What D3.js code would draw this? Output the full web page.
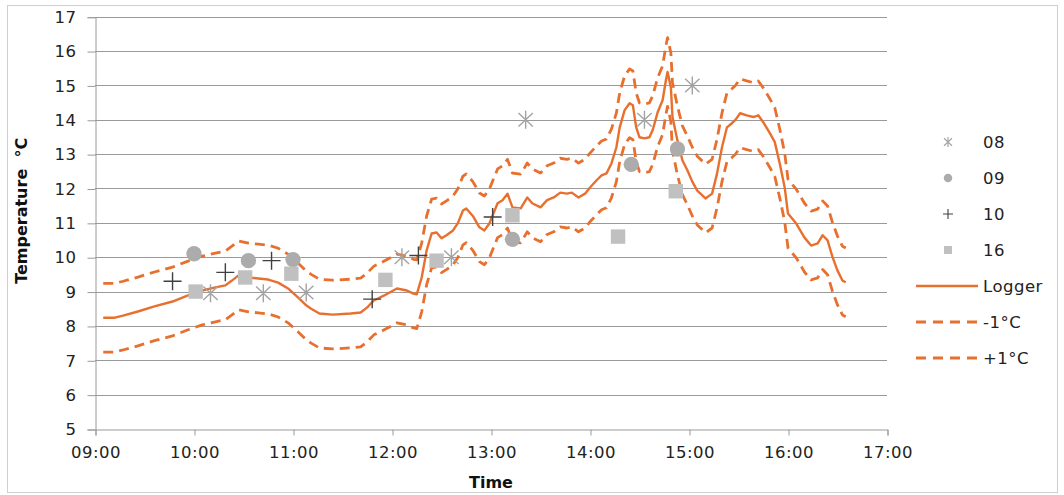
<!DOCTYPE html>
<html>
<head>
<meta charset="utf-8">
<script src="https://cdn.jsdelivr.net/npm/d3@7/dist/d3.min.js"></script>
<style>
  html, body { margin: 0; padding: 0; background: #ffffff; }
  svg { display: block; font-family: "DejaVu Sans", Verdana, sans-serif; }
</style>
</head>
<body>
<svg id="chart" width="1064" height="495"></svg>
<script>
// ---- data ----
const xTickLabels = ["09:00", "10:00", "11:00", "12:00", "13:00", "14:00", "15:00", "16:00", "17:00"];
const yTickValues = [5, 6, 7, 8, 9, 10, 11, 12, 13, 14, 15, 16, 17];

// Logger record
const loggerTimes = [
  "09:05","09:12","09:17","09:26","09:36","09:47","09:56","10:05","10:13","10:19",
  "10:23","10:27","10:33","10:39","10:45","10:51","10:57","11:03","11:08","11:11",
  "11:16","11:24","11:35","11:41","11:45","11:49","11:55","12:03","12:09","12:13",
  "12:15","12:18","12:21","12:24","12:27","12:30","12:33","12:37","12:40","12:43",
  "12:45","12:49","12:53","12:56","12:59","13:04","13:07","13:10","13:13","13:18",
  "13:22","13:25","13:30","13:34","13:38","13:42","13:46","13:49","13:53","13:57",
  "14:00","14:04","14:07","14:10","14:13","14:16","14:18","14:21","14:24","14:26",
  "14:28","14:30","14:33","14:36","14:38","14:41","14:44","14:46","14:47","14:49",
  "14:50","14:53","14:56","14:59","15:02","15:05","15:10","15:14","15:17","15:20",
  "15:23","15:26","15:28","15:31","15:35","15:39","15:42","15:45","15:49","15:52",
  "15:55","15:58","16:00","16:05","16:10","16:14","16:18","16:21","16:24","16:27",
  "16:30","16:33","16:35"
];
const loggerTemps = [
  8.24, 8.24, 8.30, 8.42, 8.57, 8.71, 8.88, 9.03, 9.12, 9.18,
  9.32, 9.47, 9.41, 9.38, 9.35, 9.26, 9.09, 8.83, 8.60, 8.50,
  8.36, 8.33, 8.36, 8.39, 8.54, 8.74, 8.88, 9.09, 9.03, 8.94,
  8.92, 9.41, 10.20, 10.69, 10.72, 10.55, 10.64, 10.78, 11.00, 11.36,
  11.42, 11.20, 10.87, 10.78, 10.98, 11.57, 11.66, 11.85, 11.45, 11.42,
  11.74, 11.57, 11.45, 11.66, 11.74, 11.88, 11.85, 11.88, 11.74, 11.85,
  12.03, 12.24, 12.38, 12.44, 12.73, 13.20, 13.78, 14.28, 14.48, 14.42,
  13.78, 13.49, 13.46, 13.49, 13.70, 14.22, 14.57, 15.15, 15.39, 14.95,
  14.08, 13.40, 12.82, 12.53, 12.20, 11.94, 11.71, 11.85, 12.44, 13.20,
  13.78, 13.90, 13.99, 14.19, 14.13, 14.08, 14.13, 13.93, 13.61, 13.35,
  12.73, 12.03, 11.27, 10.98, 10.57, 10.34, 10.40, 10.64, 10.49, 10.00,
  9.61, 9.32, 9.27
];
// Lower band (-1 °C)
const minusOneTemps = [
  7.24, 7.24, 7.30, 7.42, 7.57, 7.71, 7.88, 8.03, 8.12, 8.18,
  8.32, 8.47, 8.41, 8.38, 8.35, 8.26, 8.09, 7.83, 7.60, 7.50,
  7.36, 7.33, 7.36, 7.39, 7.54, 7.74, 7.88, 8.09, 8.03, 7.94,
  7.92, 8.41, 9.20, 9.69, 9.72, 9.55, 9.64, 9.78, 10.00, 10.36,
  10.42, 10.20, 9.87, 9.78, 9.98, 10.57, 10.66, 10.85, 10.45, 10.42,
  10.74, 10.57, 10.45, 10.66, 10.74, 10.88, 10.85, 10.88, 10.74, 10.85,
  11.03, 11.24, 11.38, 11.44, 11.73, 12.20, 12.78, 13.28, 13.48, 13.42,
  12.78, 12.49, 12.46, 12.49, 12.70, 13.22, 13.57, 14.15, 14.39, 13.95,
  13.08, 12.40, 11.82, 11.53, 11.20, 10.94, 10.71, 10.85, 11.44, 12.20,
  12.78, 12.90, 12.99, 13.19, 13.13, 13.08, 13.13, 12.93, 12.61, 12.35,
  11.73, 11.03, 10.27, 9.98, 9.57, 9.34, 9.40, 9.64, 9.49, 9.00,
  8.61, 8.32, 8.27
];
// Upper band (+1 °C)
const plusOneTemps = [
  9.24, 9.24, 9.30, 9.42, 9.57, 9.71, 9.88, 10.03, 10.12, 10.18,
  10.32, 10.47, 10.41, 10.38, 10.35, 10.26, 10.09, 9.83, 9.60, 9.50,
  9.36, 9.33, 9.36, 9.39, 9.54, 9.74, 9.88, 10.09, 10.03, 9.94,
  9.92, 10.41, 11.20, 11.69, 11.72, 11.55, 11.64, 11.78, 12.00, 12.36,
  12.42, 12.20, 11.87, 11.78, 11.98, 12.57, 12.66, 12.85, 12.45, 12.42,
  12.74, 12.57, 12.45, 12.66, 12.74, 12.88, 12.85, 12.88, 12.74, 12.85,
  13.03, 13.24, 13.38, 13.44, 13.73, 14.20, 14.78, 15.28, 15.48, 15.42,
  14.78, 14.49, 14.46, 14.49, 14.70, 15.22, 15.57, 16.15, 16.39, 15.95,
  15.08, 14.40, 13.82, 13.53, 13.20, 12.94, 12.71, 12.85, 13.44, 14.20,
  14.78, 14.90, 14.99, 15.19, 15.13, 15.08, 15.13, 14.93, 14.61, 14.35,
  13.73, 13.03, 12.27, 11.98, 11.57, 11.34, 11.40, 11.64, 11.49, 11.00,
  10.61, 10.32, 10.27
];

// Spot readings
const s08Times = ["10:10", "10:42", "11:08", "12:06", "12:36", "13:21", "14:33", "15:02"];
const s08Temps = [8.95, 8.95, 8.97, 10.0, 10.0, 14.0, 14.0, 15.0];
const s09Times = ["10:00", "10:33", "11:00", "13:13", "14:25", "14:53"];
const s09Temps = [10.1, 9.9, 9.93, 10.52, 12.7, 13.15];
const s10Times = ["09:47", "10:19", "10:47", "11:48", "12:16", "13:01"];
const s10Temps = [9.3, 9.56, 9.9, 8.78, 10.05, 11.17];
const s16Times = ["10:01", "10:31", "10:59", "11:56", "12:27", "13:13", "14:17", "14:52"];
const s16Temps = [9.0, 9.41, 9.52, 9.34, 9.9, 11.22, 10.6, 11.92];

const legendLabels = ["08", "09", "10", "16", "Logger", "-1°C", "+1°C"];

// ---- helpers ----
const toMin = s => { const [h, m] = s.split(":").map(Number); return h * 60 + m; };
const pairs = (times, temps) => times.map((t, i) => ({ t: toMin(t), v: temps[i] }));

const svg = d3.select("#chart");
const plot = { left: 95, right: 887, top: 16.7, bottom: 429 };

const x = d3.scaleLinear().domain([9 * 60, 17 * 60]).range([plot.left, plot.right]);
const y = d3.scaleLinear().domain([5, 17]).range([plot.bottom, plot.top]);

const gridColor = "#9a9a9a";
const orange = "#E8702F";
const fontSize = 16.5;
const letterSp = "0.5px";

// outer frame
svg.append("rect")
  .attr("x", 7.5).attr("y", 5.5).attr("width", 1050).attr("height", 487)
  .attr("fill", "#fff").attr("stroke", "#cfcfcf").attr("stroke-width", 1);

// horizontal gridlines
svg.append("g")
  .selectAll("line").data(yTickValues.filter(v => v > 5)).join("line")
  .attr("x1", plot.left).attr("x2", plot.right)
  .attr("y1", d => Math.round(y(d)) + 0.5).attr("y2", d => Math.round(y(d)) + 0.5)
  .attr("stroke", gridColor).attr("stroke-width", 1);

// y axis
const yAxis = d3.axisLeft(y).tickValues(yTickValues).tickSize(8).tickPadding(11).tickFormat(d3.format("d"));
const gy = svg.append("g").attr("transform", `translate(${plot.left + 0.5},0.5)`).call(yAxis);
gy.select(".domain").attr("stroke", gridColor);
gy.selectAll(".tick line").attr("stroke", gridColor);
gy.selectAll(".tick text").attr("font-size", fontSize).attr("fill", "#222")
  .attr("letter-spacing", letterSp)
  .attr("font-family", "DejaVu Sans, Verdana, sans-serif");

// x axis
const xTickVals = xTickLabels.map(toMin);
const xAxis = d3.axisBottom(x).tickValues(xTickVals).tickSize(6).tickPadding(11)
  .tickFormat((d, i) => xTickLabels[i]);
const gx = svg.append("g").attr("transform", `translate(0.5,${Math.round(plot.bottom) + 0.5})`).call(xAxis);
gx.select(".domain").attr("stroke", gridColor);
gx.selectAll(".tick line").attr("stroke", gridColor);
gx.selectAll(".tick text").attr("font-size", fontSize).attr("fill", "#222")
  .attr("letter-spacing", letterSp)
  .attr("font-family", "DejaVu Sans, Verdana, sans-serif");

// axis titles
svg.append("text")
  .attr("x", (plot.left + plot.right) / 2).attr("y", 488)
  .attr("text-anchor", "middle").attr("font-size", 16).attr("font-weight", "bold")
  .attr("fill", "#111").text("Time");
svg.append("text")
  .attr("transform", `translate(27,${(plot.top + plot.bottom) / 2 - 12}) rotate(-90)`)
  .attr("text-anchor", "middle").attr("font-size", 16).attr("font-weight", "bold")
  .attr("fill", "#111").style("white-space", "pre").text("Temperature  °C");

// lines
const line = d3.line().x(d => x(d.t)).y(d => y(d.v)).curve(d3.curveLinear);
const loggerData = pairs(loggerTimes, loggerTemps);
const minusData = pairs(loggerTimes, minusOneTemps);
const plusData = pairs(loggerTimes, plusOneTemps);

[minusData, plusData].forEach(data => {
  svg.append("path").datum(data).attr("d", line)
    .attr("fill", "none").attr("stroke", orange).attr("stroke-width", 2.8)
    .attr("stroke-dasharray", "10,6").attr("stroke-linejoin", "round");
});
svg.append("path").datum(loggerData).attr("d", line)
  .attr("fill", "none").attr("stroke", orange).attr("stroke-width", 2.4)
  .attr("stroke-linejoin", "round");

// marker drawing
function starPath(r) {
  const a = r * 0.8, b = r * 0.75;
  return `M0,${-r}L0,${r}M${-a},${-b}L${a},${b}M${-a},${b}L${a},${-b}`;
}
function plusPath(r) { return `M${-r},0L${r},0M0,${-r}L0,${r}`; }

const markerStyles = {
  "08": { color: "#a3a3a3" },
  "09": { color: "#acacac" },
  "10": { color: "#404040" },
  "16": { color: "#c0c0c0" }
};

function drawMarker(g, key, size, thin) {
  const c = markerStyles[key].color;
  const sw = thin ? 1.1 : 1.4;
  if (key === "08") {
    g.append("path").attr("d", starPath(size)).attr("stroke", c).attr("stroke-width", sw).attr("fill", "none");
  } else if (key === "09") {
    g.append("circle").attr("r", size * 0.85).attr("fill", c);
  } else if (key === "10") {
    g.append("path").attr("d", plusPath(size)).attr("stroke", c).attr("stroke-width", sw).attr("fill", "none");
  } else {
    const s = size * 1.6;
    g.append("rect").attr("x", -s / 2).attr("y", -s / 2).attr("width", s).attr("height", s).attr("fill", c);
  }
}

const scatter = [
  ["09", pairs(s09Times, s09Temps)],
  ["16", pairs(s16Times, s16Temps)],
  ["08", pairs(s08Times, s08Temps)],
  ["10", pairs(s10Times, s10Temps)]
];
scatter.forEach(([key, data]) => {
  data.forEach(d => {
    const g = svg.append("g").attr("transform", `translate(${x(d.t)},${y(d.v)})`);
    drawMarker(g, key, 9, false);
  });
});

// legend
const legendX = 948, legendTextX = 983, legendY0 = 142, legendStep = 36;
legendLabels.forEach((lab, i) => {
  const ly = legendY0 + i * legendStep;
  if (i < 4) {
    const g = svg.append("g").attr("transform", `translate(${legendX},${ly})`);
    drawMarker(g, lab, 5, true);
  } else {
    const ln = svg.append("line").attr("x1", 916).attr("x2", 978).attr("y1", ly).attr("y2", ly)
      .attr("stroke", orange).attr("stroke-width", i === 4 ? 2.6 : 2.8);
    if (i > 4) ln.attr("stroke-dasharray", "10,7");
  }
  svg.append("text").attr("x", legendTextX).attr("y", ly).attr("dy", "0.36em")
    .attr("font-size", fontSize).attr("letter-spacing", letterSp).attr("fill", "#222").text(lab);
});
</script>
</body>
</html>
